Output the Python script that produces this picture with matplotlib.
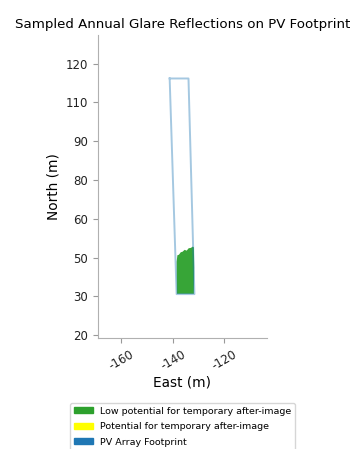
import matplotlib
matplotlib.use("Agg")
from matplotlib import pyplot as plt
from matplotlib.patches import Patch
import numpy as np

# footprint outline (East, North) in metres
footprint_x = [-141.2, -133.9, -131.6, -138.5, -141.2]
footprint_y = [114.5, 114.5, 35.1, 35.1, 114.5]

# outline of the sampled glare reflections (low potential)
glare_x = [-138.4, -138.5, -138.2, -137.6, -136.9, -136.2, -135.4, -134.6, -133.8, -133.0, -132.2, -131.8, -131.7, -131.8, -138.4]
glare_y = [35.2, 47.0, 49.4, 49.6, 50.5, 50.7, 51.4, 51.1, 52.0, 52.1, 52.6, 52.3, 45.0, 35.2, 35.2]

# y ticks as drawn on the chart
ytick_pos = [20.0, 34.29, 48.57, 62.86, 77.14, 91.43, 105.71, 120.0]
ytick_lab = ["20", "30", "50", "60", "80", "90", "110", "120"]
xtick_pos = [-160, -140, -120]

legend_labels = ["Low potential for temporary after-image",
                 "Potential for temporary after-image",
                 "PV Array Footprint"]
legend_colors = ["#2ca02c", "#ffff00", "#1f77b4"]

fig = plt.figure(figsize=(3.55, 4.49), dpi=100)
ax = fig.add_axes([0.276, 0.247, 0.475, 0.675])

ax.fill(glare_x, glare_y, color="#2ca02c", alpha=0.95, linewidth=0)
ax.plot(footprint_x, footprint_y, color="#1f77b4", alpha=0.4, linewidth=1.4)

ax.set_xlim(-169.0, -103.6)
ax.set_ylim(18.9, 130.5)
ax.set_xticks(xtick_pos)
ax.set_xticklabels([str(v) for v in xtick_pos], rotation=30)
ax.set_yticks(ytick_pos)
ax.set_yticklabels(ytick_lab)
ax.tick_params(labelsize=8.5, color="#999999", length=3.5, labelcolor="#222222")

for s in ["top", "right"]:
    ax.spines[s].set_visible(False)
for s in ["left", "bottom"]:
    ax.spines[s].set_color("#b0b0b0")

ax.set_xlabel("East (m)", fontsize=9.8, labelpad=2)
ax.set_ylabel("North (m)", fontsize=9.8)
ax.set_title("Sampled Annual Glare Reflections on PV Footprint", fontsize=9.6, pad=5)

handles = [Patch(color=c) for c in legend_colors]
fig.legend(handles, legend_labels, loc="upper left", bbox_to_anchor=(0.197, 0.1024),
           fontsize=6.8, frameon=True, borderaxespad=0, handleheight=0.6,
           labelspacing=0.68)

fig.savefig("out.png", dpi=100)
